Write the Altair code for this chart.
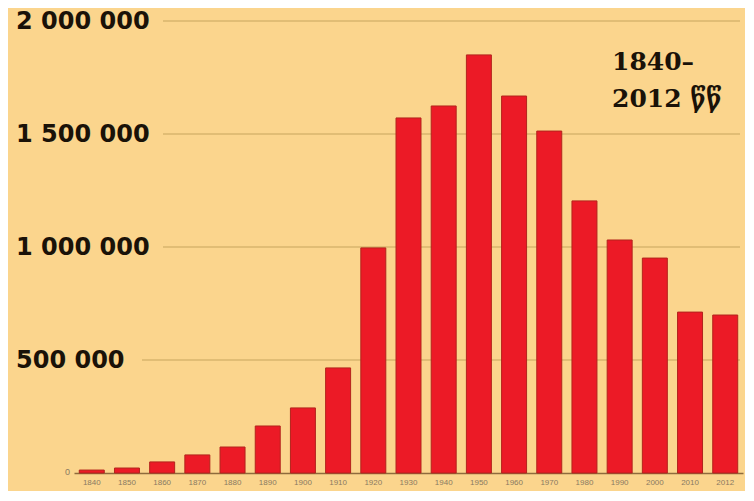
import altair as alt
import pandas as pd

years = ["1840", "1850", "1860", "1870", "1880", "1890", "1900", "1910", "1920", "1930",
         "1940", "1950", "1960", "1970", "1980", "1990", "2000", "2010", "2012"]
values = [13000, 22000, 49000, 80000, 115000, 208000, 288000, 465000, 996000, 1571000,
          1624000, 1850000, 1668000, 1513000, 1204000, 1031000, 951000, 712000, 699000]

tick_values = [500000, 1000000, 1500000, 2000000]
tick_labels = ["500 000", "1 000 000", "1 500 000", "2 000 000"]
zero_label = "0"
title_text = "1840–\n2012 წწ"

bars_df = pd.DataFrame({"year": years, "value": values})
ticks_df = pd.DataFrame({"v": tick_values, "label": tick_labels})

yscale = alt.Scale(domain=[0, 2057500], nice=False, zero=True)

grid_big = alt.Chart(ticks_df).transform_filter("datum.v >= 1000000").mark_rule(
    color="#D9B46E", strokeWidth=1.5
).encode(y=alt.Y("v:Q", scale=yscale, axis=None), x=alt.value(89), x2=alt.value(666))

grid_small = alt.Chart(ticks_df).transform_filter("datum.v < 1000000").mark_rule(
    color="#D9B46E", strokeWidth=1.5
).encode(y=alt.Y("v:Q", scale=yscale, axis=None), x=alt.value(68), x2=alt.value(666))

bars = alt.Chart(bars_df).mark_bar(
    color="#EC1A26", stroke="#B3241C", strokeWidth=1
).encode(
    x=alt.X("year:N", sort=None,
            scale=alt.Scale(paddingInner=0.29, paddingOuter=0.15),
            axis=alt.Axis(title=None, labelAngle=0, ticks=False, domain=True,
                          domainColor="#8E6B3C", domainWidth=1.5,
                          labelFont="Liberation Sans", labelFontSize=8,
                          labelColor="#8A7A62", labelPadding=5, grid=False)),
    y=alt.Y("value:Q", scale=yscale, axis=None),
)

labels = alt.Chart(ticks_df).mark_text(
    align="left", baseline="middle", font="DejaVu Sans", fontWeight="bold",
    fontSize=24, color="#1A1208", dy=1
).encode(y=alt.Y("v:Q", scale=yscale, axis=None), x=alt.value(-58), text="label:N")

zero = alt.Chart(pd.DataFrame({"v": [0], "label": [zero_label]})).mark_text(
    align="right", baseline="middle", font="Liberation Sans", fontSize=9,
    color="#8A7A62", dy=-1
).encode(y=alt.Y("v:Q", scale=yscale, axis=None), x=alt.value(-4), text="label:N")

title = alt.Chart(pd.DataFrame({"t": [title_text]})).mark_text(
    align="left", baseline="alphabetic", font="DejaVu Serif", fontWeight="bold",
    fontSize=25, color="#1A1208", lineBreak="\n", lineHeight=37
).encode(x=alt.value(538), y=alt.value(62), text="t:N")

chart = alt.layer(grid_big, grid_small, bars, labels, zero, title).properties(
    width=669, height=465,
    padding={"left": 66, "right": 2, "top": 0, "bottom": 18},
    autosize=alt.AutoSizeParams(type="none"),
    background="#FBD58D",
).configure_view(stroke=None)

chart.save("out.html", embed_options={"renderer": "svg", "actions": False})
